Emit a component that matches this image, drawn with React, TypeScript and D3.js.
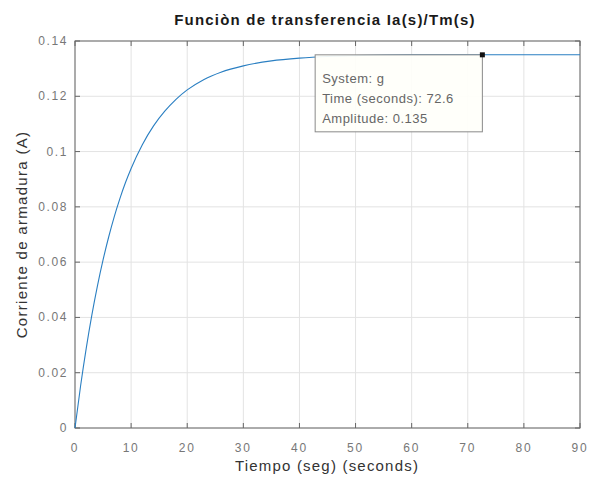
import React from "react";
import * as d3 from "d3";

const timeS = [0, 1, 2, 3, 4, 5, 6, 7, 8, 9, 10, 12, 14, 16, 18, 20, 23, 26, 30, 35, 40, 45, 50, 60, 72.6, 80, 90];
const amplitude = [0, 0.0153, 0.0288, 0.0408, 0.0514, 0.0608, 0.0691, 0.0765, 0.0830, 0.0888, 0.0939, 0.1025, 0.1093, 0.1146, 0.1189, 0.1223, 0.1261, 0.1287, 0.1310, 0.1328, 0.1338, 0.1344, 0.1347, 0.1350, 0.135, 0.135, 0.135];
const xTicks = [0, 10, 20, 30, 40, 50, 60, 70, 80, 90];
const yTicks = [0, 0.02, 0.04, 0.06, 0.08, 0.1, 0.12, 0.14];
const tipTime = 72.6;
const tipAmp = 0.135;
const tipLines = ["System: g", "Time (seconds): 72.6", "Amplitude: 0.135"];
const title = "Funciòn de transferencia Ia(s)/Tm(s)";
const xLabel = "Tiempo (seg) (seconds)";
const yLabel = "Corriente de armadura (A)";

const W = 591, H = 477;
const L = 75, R = 580, T = 41, B = 428;
const font = "'Liberation Sans', Arial, Helvetica, sans-serif";

export default function App() {
  const x = d3.scaleLinear().domain([0, 90]).range([L, R]);
  const y = d3.scaleLinear().domain([0, 0.14]).range([B, T]);
  const pts: [number, number][] = timeS.map((t, i) => [t, amplitude[i]]);
  const line = d3.line<[number, number]>().x(d => x(d[0])).y(d => y(d[1])).curve(d3.curveMonotoneX);
  const tx = x(tipTime), ty = y(tipAmp);
  const boxL = x(42.8), boxR = tx, boxT = ty, boxB = ty + 77;
  return (
    <svg width={W} height={H} style={{ position: "absolute", left: 0, top: 0, background: "#fff" }} fontFamily={font}>
      <rect x={0} y={0} width={W} height={H} fill="#fff" />
      {xTicks.map(t => (
        <line key={"gx" + t} x1={x(t)} x2={x(t)} y1={T} y2={B} stroke="#e3e3e3" strokeWidth={1} />
      ))}
      {yTicks.map(t => (
        <line key={"gy" + t} x1={L} x2={R} y1={y(t)} y2={y(t)} stroke="#e3e3e3" strokeWidth={1} />
      ))}
      {xTicks.map(t => (
        <g key={"tx" + t}>
          <line x1={x(t)} x2={x(t)} y1={B} y2={B - 5} stroke="#666" />
          <line x1={x(t)} x2={x(t)} y1={T} y2={T + 5} stroke="#666" />
          <text x={x(t)} y={452} textAnchor="middle" fontSize={12} fill="#777" letterSpacing={1.8}>{t}</text>
        </g>
      ))}
      {yTicks.map(t => (
        <g key={"ty" + t}>
          <line x1={L} x2={L + 5} y1={y(t)} y2={y(t)} stroke="#666" />
          <line x1={R} x2={R - 5} y1={y(t)} y2={y(t)} stroke="#666" />
          <text x={68} y={y(t) + 4} textAnchor="end" fontSize={12} fill="#777" letterSpacing={1.6}>{t === 0 ? "0" : String(t)}</text>
        </g>
      ))}
      <rect x={L} y={T} width={R - L} height={B - T} fill="none" stroke="#666" strokeWidth={1} />
      <path d={line(pts) || ""} fill="none" stroke="#2a7fc2" strokeWidth={1.1} />
      <rect x={boxL} y={boxT} width={boxR - boxL} height={boxB - boxT} fill="#fffffa" fillOpacity={0.92} stroke="#8a8a8a" strokeWidth={1} />
      {tipLines.map((s, i) => (
        <text key={s} x={boxL + 7} y={boxT + 28 + i * 20} fontSize={13} fill="#666" letterSpacing={0.5}>{s}</text>
      ))}
      <rect x={tx - 2.5} y={ty - 2.5} width={5} height={5} fill="#111" />
      <text x={325} y={25} textAnchor="middle" fontSize={15} fontWeight="bold" fill="#1a1a1a" letterSpacing={1.2}>{title}</text>
      <text x={327} y={471} textAnchor="middle" fontSize={15} fill="#333" letterSpacing={1.2}>{xLabel}</text>
      <text transform={`translate(27,${(T + B) / 2}) rotate(-90)`} textAnchor="middle" fontSize={15} fill="#333" letterSpacing={1.3}>{yLabel}</text>
    </svg>
  );
}
